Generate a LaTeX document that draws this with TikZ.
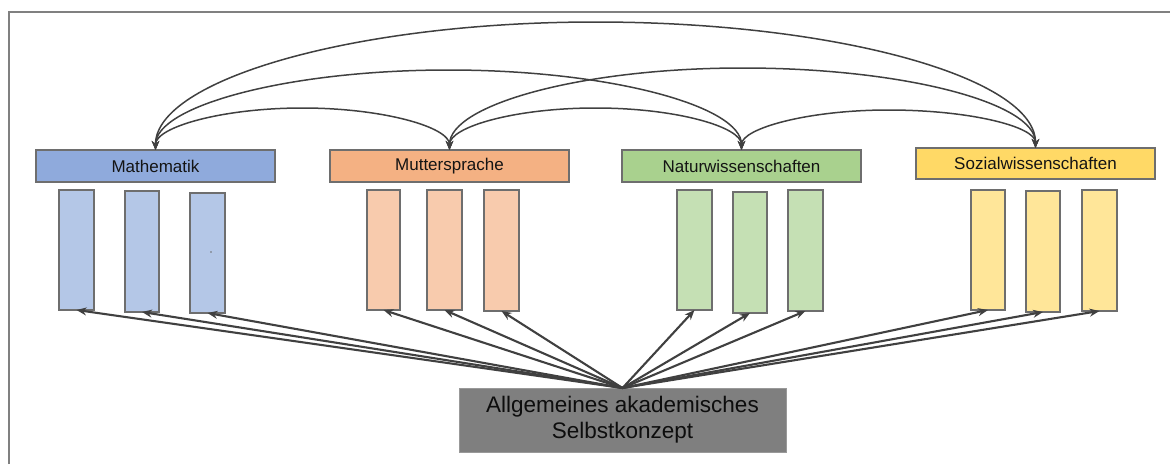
\documentclass[tikz,border=0pt]{standalone}
\usepackage{fontspec}
\setmainfont{Liberation Sans}
\usetikzlibrary{arrows.meta,calc}
\definecolor{mathH}{HTML}{8FAADC}
\definecolor{mathS}{HTML}{B4C7E7}
\definecolor{mutH}{HTML}{F4B183}
\definecolor{mutS}{HTML}{F8CBAD}
\definecolor{natH}{HTML}{A9D18E}
\definecolor{natS}{HTML}{C5E0B4}
\definecolor{sozH}{HTML}{FFD966}
\definecolor{sozS}{HTML}{FFE699}
\definecolor{genG}{HTML}{7F7F7F}
\definecolor{bordc}{HTML}{6E6E6E}
\definecolor{arrc}{HTML}{404040}
\definecolor{framec}{HTML}{808080}
\begin{document}
\begin{tikzpicture}[x=1pt,y=-1pt,
  hdr/.style={draw=bordc,line width=1.4pt,inner sep=0pt,outer sep=0pt,
    minimum width=239pt,minimum height=32pt,
    font=\fontsize{17}{20}\selectfont,text=black!92},
  subbox/.style={draw=bordc,line width=1.4pt,inner sep=0pt,outer sep=0pt,
    minimum width=35pt,minimum height=120pt},
  genbox/.style={draw=genG!80,line width=0.8pt,fill=genG,inner sep=0pt,outer sep=0pt,
    minimum width=327pt,minimum height=64pt,align=center,
    font=\fontsize{22.5}{26}\selectfont,text=black!95},
  barr/.style={draw=arrc,line width=2.1pt,-{Stealth[length=10pt,width=8pt]}},
  carr/.style={draw=arrc,line width=1.5pt,{Stealth[length=9pt,width=7.5pt]}-{Stealth[length=9pt,width=7.5pt]}},
  framel/.style={draw=framec,line width=2pt}
]
\useasboundingbox (0,0) rectangle (1170,464);
% frame
\coordinate (fa) at (8.5,464);
\coordinate (fb) at (8.5,11.5);
\coordinate (fc) at (1170,11.5);
\draw[framel] (fa) -- (fb) -- (fc);

% headers
\node[hdr,fill=mathH] (m) at (155.5,166) {Mathematik};
\node[hdr,fill=mutH] (u) at (449.5,166) {Muttersprache};
\node[hdr,fill=natH] (n) at (741.5,166) {Naturwissenschaften};
\node[hdr,fill=sozH,minimum height=31pt] (s) at (1035.5,163.5) {Sozialwissenschaften};

% sub boxes
\node[subbox,fill=mathS] (m1) at (76.5,250) {};
\node[subbox,fill=mathS,minimum width=34pt,minimum height=121pt] (m2) at (142,251.5) {};
\node[subbox,fill=mathS] (m3) at (207.5,253) {};
\node[subbox,fill=mutS,minimum width=33pt] (u1) at (383.5,250) {};
\node[subbox,fill=mutS] (u2) at (444.5,250) {};
\node[subbox,fill=mutS,minimum height=121pt] (u3) at (501.5,250.5) {};
\node[subbox,fill=natS] (n1) at (694.5,250) {};
\node[subbox,fill=natS,minimum width=34pt,minimum height=121pt] (n2) at (750,252.5) {};
\node[subbox,fill=natS,minimum height=121pt] (n3) at (805.5,250.5) {};
\node[subbox,fill=sozS,minimum width=34pt] (s1) at (988,250) {};
\node[subbox,fill=sozS,minimum width=34pt,minimum height=121pt] (s2) at (1043,251.5) {};
\node[subbox,fill=sozS,minimum height=121pt] (s3) at (1099.5,250.5) {};
\fill[bordc] (211,252) circle (0.9pt);

% general box
\node[genbox] (g) at (622.5,420) {Allgemeines akademisches\\Selbstkonzept};

% bottom arrows
\foreach \t in {m1,m2,m3,u1,u2,u3,n1,n2,n3,s1,s2,s3}
  \draw[barr] (g.north) -- (\t.south);

% curved connectors
\draw[carr] (m.north) .. controls +(0,-70) and +(-242,0) .. ($(m.north)!.5!(s.north)+(0,-127)$)
  .. controls +(242,0) and +(0,-70) .. (s.north);
\draw[carr] (m.north) .. controls +(0,-44) and +(-161,0) .. ($(m.north)!.5!(n.north)+(0,-80)$)
  .. controls +(161,0) and +(0,-44) .. (n.north);
\draw[carr] (u.north) .. controls +(0,-45) and +(-162,0) .. ($(u.north)!.5!(s.north)+(0,-81)$)
  .. controls +(162,0) and +(0,-45) .. (s.north);
\draw[carr] (m.north) .. controls +(0,-23) and +(-80,0) .. ($(m.north)!.5!(u.north)+(0,-42)$)
  .. controls +(80,0) and +(0,-23) .. (u.north);
\draw[carr] (u.north) .. controls +(0,-23) and +(-81,0) .. ($(u.north)!.5!(n.north)+(0,-42)$)
  .. controls +(81,0) and +(0,-23) .. (n.north);
\draw[carr] (n.north) .. controls +(0,-21.5) and +(-81,0) .. ($(n.north)!.5!(s.north)+(0,-39)$)
  .. controls +(81,0) and +(0,-21.5) .. (s.north);
\end{tikzpicture}
\end{document}
